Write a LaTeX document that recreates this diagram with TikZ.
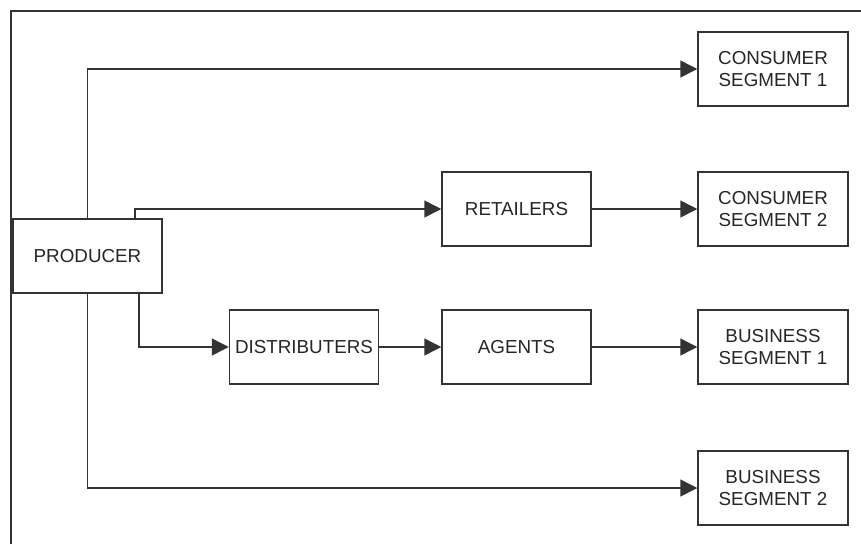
\documentclass[tikz,border=0pt]{standalone}
\usepackage{fontspec}
\setmainfont{Liberation Sans}
\usetikzlibrary{arrows.meta}
\tikzset{
  box/.style={draw=black!80, line width=1.5pt, fill=white, minimum width=149pt,
    minimum height=74pt, inner sep=0pt, align=center, text=black!85,
    font=\fontsize{18.8}{22}\selectfont},
  flow/.style={draw=black!80, line width=1.5pt,
    -{Triangle[length=17pt,width=17pt]}},
  frame/.style={draw=black!80, line width=2pt}
}
\begin{document}
\begin{tikzpicture}[x=1pt,y=-1pt]
  \useasboundingbox (0,0) rectangle (861,544);
  \fill[white] (0,0) rectangle (861,544);
  % outer frame (top and left edges visible)
  \draw[frame] (11,544) -- (11,11) -- (861,11);

  % nodes
  \node[box] (prod) at (87.5,256) {PRODUCER};
  \node[box] (ret)  at (516.5,209) {RETAILERS};
  \node[box] (dist) at (304,347) {DISTRIBUTERS};
  \node[box] (ag)   at (516.5,347) {AGENTS};
  \node[box, minimum width=150pt] (cs1) at (773,69)  {CONSUMER\\SEGMENT 1};
  \node[box, minimum width=150pt] (cs2) at (773,209) {CONSUMER\\SEGMENT 2};
  \node[box, minimum width=150pt] (bs1) at (773,347) {BUSINESS\\SEGMENT 1};
  \node[box, minimum width=150pt] (bs2) at (773,488) {BUSINESS\\SEGMENT 2};

  % connectors
  \draw[flow] (prod.north) |- (cs1.west);
  \draw[flow] ([xshift=47.5pt]prod.north) |- (ret.west);
  \draw[flow] (prod.south) |- (bs2.west);
  \draw[flow] ([xshift=51.5pt]prod.south) |- (dist.west);
  \draw[flow] (ret) -- (cs2);
  \draw[flow] (dist) -- (ag);
  \draw[flow] (ag) -- (bs1);
\end{tikzpicture}
\end{document}
